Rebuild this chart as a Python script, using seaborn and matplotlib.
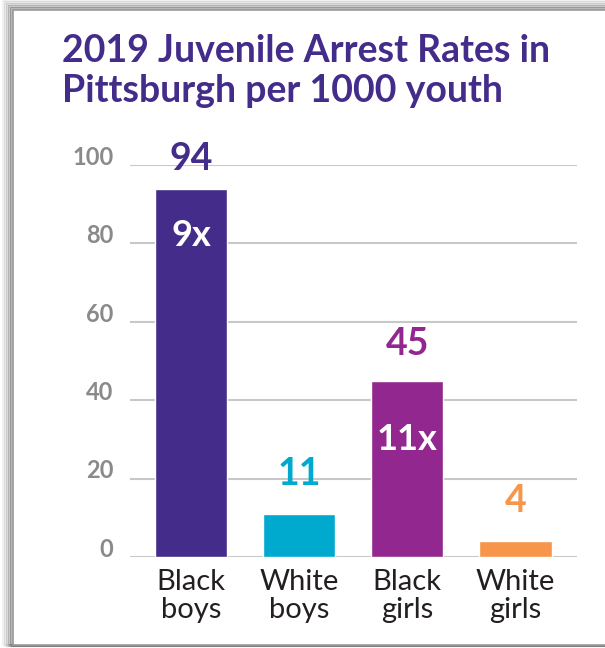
import matplotlib
matplotlib.use("Agg")
import matplotlib.pyplot as plt
import matplotlib.transforms as mtransforms
from matplotlib.patches import Rectangle
import seaborn as sns
import pandas as pd

categories = ["Black\nboys", "White\nboys", "Black\ngirls", "White\ngirls"]
rates = [94, 11, 45, 4]
colors = ["#432C8A", "#00A9CE", "#92278F", "#F7964A"]
ratio_labels = ["9x", "", "11x", ""]
yticks = [0, 20, 40, 60, 80, 100]

df = pd.DataFrame({"group": categories, "rate": rates})

sns.set_style("white")
plt.rcParams["font.family"] = ["Lato", "DejaVu Sans"]

fig = plt.figure(figsize=(6.05, 6.48), dpi=100)
fig.patch.set_facecolor("white")

# card shadow on left / top
for i, a in enumerate([0.08, 0.13, 0.2, 0.3, 0.42]):
    off = (5 - i) * 2
    fig.patches.append(Rectangle(((13 - off) / 605, 3 / 648), 1.0, (635 + off) / 648,
                                 transform=fig.transFigure, facecolor="none",
                                 edgecolor="#555555", linewidth=2.2, alpha=a, zorder=0))
fig.patches.append(Rectangle((13 / 605, 3 / 648), 1.0, 635 / 648,
                             transform=fig.transFigure, facecolor="white",
                             edgecolor="#9a9a9a", linewidth=1.2, zorder=1))

ax = fig.add_axes([130 / 605, 1 - 557 / 648, 447 / 605, 392 / 648])
ax.set_facecolor("none")
ax.set_zorder(2)

sns.barplot(data=df, x="group", y="rate", hue="group", palette=colors,
            width=0.67, legend=False, ax=ax, saturation=1, zorder=3)

ax.set_xlim(-0.565, 3.57)
ax.set_ylim(0, 100)
ax.set_yticks(yticks)
ax.yaxis.grid(True, color="#c8c8c8", linewidth=1.5)
ax.set_axisbelow(True)
for s in ax.spines.values():
    s.set_visible(False)
ax.tick_params(axis="y", length=0, pad=12, labelsize=17, labelcolor="#8a8a8a")
ax.tick_params(axis="x", length=0, pad=9, labelsize=21, labelcolor="#231f20")
for lab in ax.get_yticklabels():
    lab.set_fontweight("bold")
    lab.set_transform(lab.get_transform() +
                      mtransforms.ScaledTranslation(0, 7 / 72, fig.dpi_scale_trans))
for lab in ax.get_xticklabels():
    lab.set_linespacing(1.05)
ax.set_xlabel("")
ax.set_ylabel("")

label_offsets = [21, 29, 26, 29]
for i, (v, c) in enumerate(zip(rates, colors)):
    ax.annotate(str(v), (i, v), xytext=(0, label_offsets[i]), textcoords="offset points",
                ha="center", va="center", fontsize=27, fontweight="bold", color=c,
                annotation_clip=False)

ratio_y = [82, None, 30, None]
for i, t in enumerate(ratio_labels):
    if t:
        ax.text(i, ratio_y[i], t, ha="center", va="center", fontsize=26,
                fontweight="bold", color="white", zorder=5)

fig.text(62 / 605, 1 - 34 / 648, "2019 Juvenile Arrest Rates in\nPittsburgh per 1000 youth",
         ha="left", va="top", fontsize=27, fontweight="bold", color="#432C8A",
         linespacing=1.22)

fig.savefig("out.png", dpi=100, facecolor="white")
